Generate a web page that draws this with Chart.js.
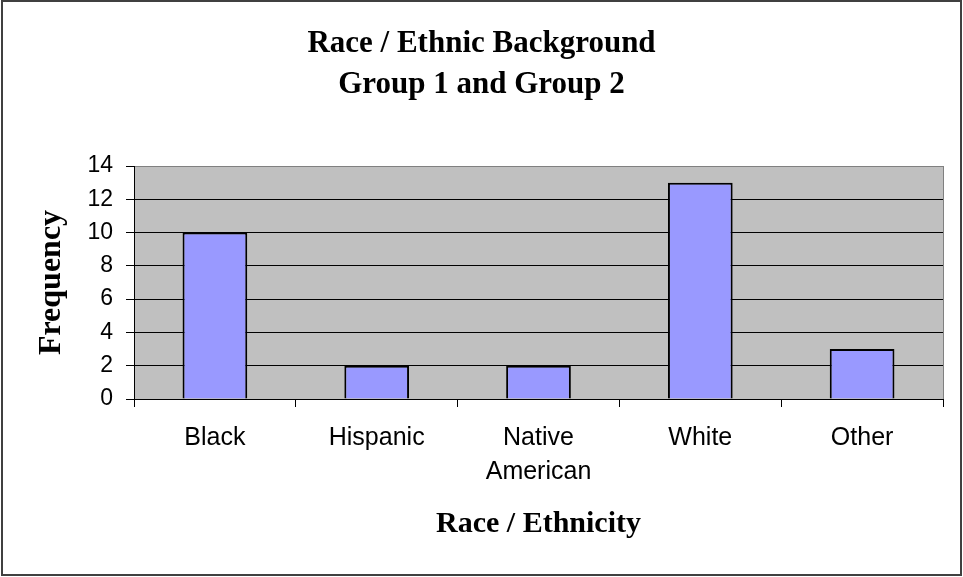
<!DOCTYPE html>
<html>
<head>
<meta charset="utf-8">
<script src="https://cdn.jsdelivr.net/npm/chart.js@4.4.1/dist/chart.umd.min.js"></script>
<style>
html,body{margin:0;padding:0;background:#fff;}
#wrap{position:relative;width:963px;height:577px;}
</style>
</head>
<body>
<div id="wrap"><canvas id="c" width="963" height="577"></canvas></div>
<script>
const categories = ["Black", "Hispanic", ["Native", "American"], "White", "Other"];
const frequency = [10, 2, 2, 13, 3];
const yTicks = [0, 2, 4, 6, 8, 10, 12, 14];
const chartTitle = ["Race / Ethnic Background", "Group 1 and Group 2"];
const xTitle = "Race / Ethnicity";
const yTitle = "Frequency";

const frame = {
  id: 'frame',
  beforeDraw(chart) {
    const {ctx, chartArea: a} = chart;
    ctx.save();
    ctx.fillStyle = '#fff';
    ctx.fillRect(0, 0, chart.width, chart.height);
    ctx.fillStyle = '#C0C0C0';
    ctx.fillRect(a.left, a.top, a.right - a.left, a.bottom - a.top);
    ctx.restore();
  },
  afterDraw(chart) {
    const {ctx, chartArea: a} = chart;
    ctx.save();
    ctx.strokeStyle = '#808080';
    ctx.lineWidth = 1;
    ctx.beginPath();
    ctx.moveTo(Math.round(a.right) + 0.5, a.top);
    ctx.lineTo(Math.round(a.right) + 0.5, a.bottom);
    ctx.stroke();
    ctx.strokeStyle = '#404040';
    ctx.lineWidth = 2;
    ctx.strokeRect(2, 1, 959, 574);
    ctx.restore();
  }
};

new Chart(document.getElementById('c'), {
  type: 'bar',
  data: {
    labels: categories,
    datasets: [{
      data: frequency,
      backgroundColor: '#9999FF',
      borderColor: '#000',
      borderWidth: 2,
      barPercentage: 0.4,
      categoryPercentage: 1.0
    }]
  },
  options: {
    responsive: false,
    animation: false,
    devicePixelRatio: 1,
    layout: {padding: {left: 0, right: 0, top: 0, bottom: 0}},
    plugins: {
      legend: {display: false},
      tooltip: {enabled: false},
      title: {
        display: true,
        text: chartTitle,
        color: '#000',
        font: {family: '"Liberation Serif", "Times New Roman", serif', size: 31, weight: 'bold', lineHeight: 41/31},
        padding: {top: 23.5, bottom: 60.5}
      }
    },
    scales: {
      x: {
        offset: true,
        grid: {display: true, drawOnChartArea: false, drawTicks: true, tickLength: 8, tickColor: '#000', offset: true},
        border: {display: true, color: '#000', width: 1},
        ticks: {
          color: '#000',
          font: {family: '"Liberation Sans", Arial, sans-serif', size: 25, lineHeight: 34/25},
          padding: 14,
          maxRotation: 0,
          autoSkip: false
        },
        title: {
          display: true,
          text: xTitle,
          color: '#000',
          font: {family: '"Liberation Serif", "Times New Roman", serif', size: 30, weight: 'bold'},
          padding: {top: 0, bottom: 35}
        },
        afterFit(scale) { scale.height = 178; }
      },
      y: {
        min: 0,
        max: 14,
        afterBuildTicks(scale) { scale.ticks = yTicks.map(v => ({value: v})); },
        grid: {
          color: ctx => (ctx.tick && ctx.tick.value === 14) ? '#808080' : '#000',
          lineWidth: 1,
          drawTicks: true,
          tickLength: 8,
          tickColor: '#000'
        },
        border: {display: true, color: '#000', width: 1},
        ticks: {
          color: '#000',
          font: {family: '"Liberation Sans", Arial, sans-serif', size: 23},
          padding: 13
        },
        title: {
          display: true,
          text: yTitle,
          color: '#000',
          font: {family: '"Liberation Serif", "Times New Roman", serif', size: 32, weight: 'bold'},
          padding: {top: 33, bottom: 0}
        },
        afterFit(scale) { scale.width = 134; }
      },
      yRight: {
        position: 'right',
        display: true,
        min: 0,
        max: 14,
        grid: {display: false, drawOnChartArea: false},
        border: {display: false},
        ticks: {display: false},
        afterFit(scale) { scale.width = 20; }
      }
    }
  },
  plugins: [frame]
});
</script>
</body>
</html>
